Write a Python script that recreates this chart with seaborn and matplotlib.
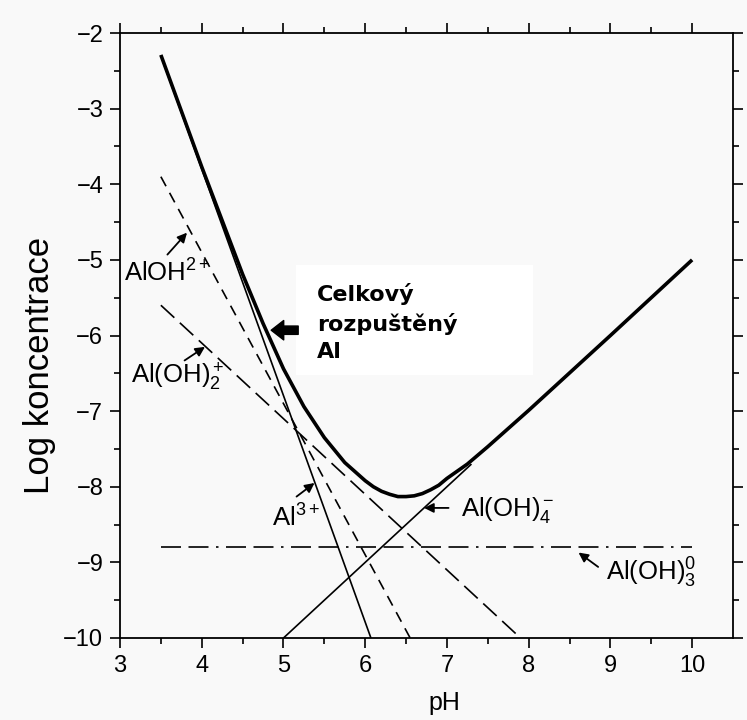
import matplotlib
matplotlib.use("Agg")
import matplotlib.pyplot as plt
from matplotlib.patches import Rectangle
import seaborn as sns

# log concentration of each dissolved aluminium species vs. pH
al3_ph = [3.5, 6.07]
al3_log = [-2.3, -10.0]
aloh_ph = [3.5, 6.55]
aloh_log = [-3.9, -10.0]
aloh2_ph = [3.5, 7.9]
aloh2_log = [-5.6, -10.0]
aloh3_ph = [3.5, 10.0]
aloh3_log = [-8.8, -8.8]
aloh4_ph = [5.0, 7.3]
aloh4_log = [-10.0, -7.7]

# total dissolved aluminium
total_ph = [3.5, 4.0, 4.5, 4.75, 5.0, 5.25, 5.5, 5.75, 6.0, 6.1, 6.2, 6.3, 6.4,
            6.5, 6.6, 6.7, 6.8, 6.9, 7.0, 7.25, 7.5, 8.0, 9.0, 10.0]
total_log = [-2.29, -3.77, -5.19, -5.84, -6.44, -6.94, -7.35, -7.68, -7.92, -8.00,
             -8.06, -8.10, -8.13, -8.13, -8.12, -8.09, -8.04, -7.98, -7.89, -7.70,
             -7.47, -6.99, -6.00, -5.00]

x_ticks = [3, 4, 5, 6, 7, 8, 9, 10]
y_ticks = [-10, -9, -8, -7, -6, -5, -4, -3, -2]

sns.set_theme(style="ticks")
plt.rcParams["font.family"] = ["Liberation Sans", "DejaVu Sans"]
plt.rcParams["mathtext.fontset"] = "custom"
plt.rcParams["mathtext.rm"] = "Liberation Sans"
plt.rcParams["mathtext.it"] = "Liberation Sans:italic"
plt.rcParams["mathtext.bf"] = "Liberation Sans:bold"
plt.rcParams["mathtext.default"] = "regular"

bg = "#f9f9f9"
fig = plt.figure(figsize=(7.47, 7.2), dpi=100, facecolor=bg)
ax = fig.add_axes([120 / 747, 1 - 638 / 720, 613 / 747, 605 / 720])
ax.set_facecolor(bg)

series = [
    (al3_ph, al3_log, 1.2, "-"),
    (aloh_ph, aloh_log, 1.2, (0, (6.5, 4.5))),
    (aloh2_ph, aloh2_log, 1.2, (0, (11, 4.5))),
    (aloh3_ph, aloh3_log, 1.2, (0, (12, 4.5, 12, 4.5, 1.5, 4.5))),
    (aloh4_ph, aloh4_log, 1.2, "-"),
    (total_ph, total_log, 2.6, "-"),
]
for xs, ys, lw, ls in series:
    sns.lineplot(x=xs, y=ys, ax=ax, color="black", linewidth=lw, linestyle=ls,
                 sort=False, estimator=None, solid_joinstyle="round",
                 solid_capstyle="butt", zorder=3)

ax.set_xlim(3, 10.5)
ax.set_ylim(-10, -2)
ax.set_xticks(x_ticks)
ax.set_yticks(y_ticks)
ax.set_xticks([v + 0.5 for v in x_ticks[:-1]], minor=True)
ax.set_yticks([v + 0.5 for v in y_ticks[:-1]], minor=True)
ax.set_yticklabels([f"\u2212{abs(v)}" for v in y_ticks])
ax.tick_params(which="both", direction="out", top=True, right=True,
               labeltop=False, labelright=False, width=1.2, color="black",
               labelsize=17, labelcolor="black")
ax.tick_params(which="major", length=7, pad=5)
ax.tick_params(which="minor", length=4)
for sp in ax.spines.values():
    sp.set_visible(True)
    sp.set_color("black")
    sp.set_linewidth(1.3)

ax.set_xlabel("pH", fontsize=18, color="black")
ax.set_ylabel("Log koncentrace", fontsize=25, color="black")
ax.xaxis.set_label_coords(0.53, -0.088)
ax.yaxis.set_label_coords(-0.105, 0.45)

arrow = dict(arrowstyle="-|>", color="black", lw=1.3, mutation_scale=14,
             shrinkA=0, shrinkB=0)
lab = dict(fontsize=18.5, color="black", va="center", ha="left", zorder=4)

ax.annotate("", xy=(3.82, -4.64), xytext=(3.58, -4.93), arrowprops=arrow)
ax.text(3.05, -5.17, r"AlOH$^{2+}$", **lab)

ax.annotate("", xy=(4.04, -6.15), xytext=(3.79, -6.33), arrowprops=arrow)
ax.text(3.14, -6.55, r"Al(OH)$_2^+$", **lab)

ax.annotate("", xy=(5.38, -7.95), xytext=(5.16, -8.13), arrowprops=arrow)
ax.text(4.86, -8.41, r"Al$^{3+}$", **lab)

ax.annotate("", xy=(6.72, -8.28), xytext=(7.02, -8.28), arrowprops=arrow)
ax.text(7.17, -8.31, r"Al(OH)$_4^-$", **lab)

ax.annotate("", xy=(8.61, -8.87), xytext=(8.85, -9.06), arrowprops=arrow)
ax.text(8.95, -9.14, r"Al(OH)$_3^0$", **lab)

# white panel behind the total-aluminium caption
ax.add_patch(Rectangle((5.155, -6.52), 2.9, 1.45, facecolor="white",
                       edgecolor="none", zorder=1.5))
ax.text(5.41, -5.83, "Celkový\nrozpuštěný\nAl", fontsize=16, fontweight="bold",
        family=["DejaVu Sans"], color="black", ha="left", va="center",
        linespacing=1.43, zorder=4)
ax.annotate("", xy=(4.85, -5.93), xytext=(5.18, -5.93),
            arrowprops=dict(facecolor="black", edgecolor="black", width=6,
                            headwidth=14, headlength=9, shrink=0), zorder=4)

fig.savefig("out.png", dpi=100, facecolor=bg)
